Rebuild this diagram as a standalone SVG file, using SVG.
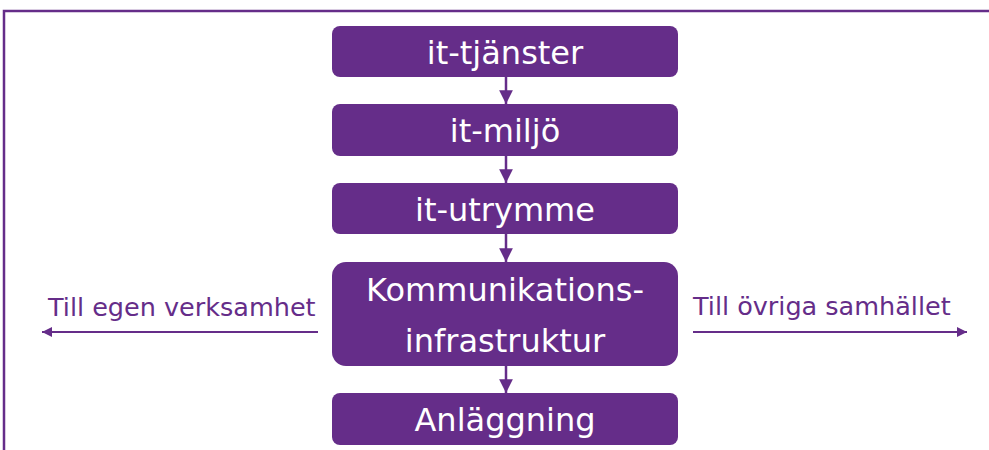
<svg xmlns="http://www.w3.org/2000/svg" width="989" height="450" viewBox="0 0 989 450">
  <style>
    .box { fill: #652d89; }
    .label { font-family: "DejaVu Sans", sans-serif; font-size: 32px; fill: #ffffff; text-anchor: middle; }
    .side { font-family: "DejaVu Sans", sans-serif; font-size: 25.5px; fill: #652d89; }
    .link { stroke: #652d89; stroke-width: 2.5; fill: none; }
    .thin { stroke: #652d89; stroke-width: 2; fill: none; }
  </style>
  <defs>
    <marker id="head" viewBox="0 0 10 10" refX="10" refY="5" markerWidth="5.5" markerHeight="6" markerUnits="strokeWidth" orient="auto">
      <path d="M0,0 L10,5 L0,10 Z" fill="#652d89"/>
    </marker>
    <marker id="headSmall" viewBox="0 0 10 10" refX="10" refY="5" markerWidth="5" markerHeight="5" markerUnits="strokeWidth" orient="auto">
      <path d="M0,0 L10,5 L0,10 Z" fill="#652d89"/>
    </marker>
  </defs>

  <!-- frame -->
  <path d="M4,450 L4,11 L989,11" stroke="#652d89" stroke-width="2.5" fill="none"/>

  <g id="connectors">
    <line class="link" x1="506" y1="77" x2="506" y2="104" marker-end="url(#head)"/>
    <line class="link" x1="506" y1="156" x2="506" y2="183" marker-end="url(#head)"/>
    <line class="link" x1="506" y1="234" x2="506" y2="262" marker-end="url(#head)"/>
    <line class="link" x1="506" y1="366" x2="506" y2="393" marker-end="url(#head)"/>
    <line class="thin" x1="318" y1="332" x2="42" y2="332" marker-end="url(#headSmall)"/>
    <line class="thin" x1="693" y1="332" x2="967" y2="332" marker-end="url(#headSmall)"/>
  </g>

  <g id="it-tjanster">
    <rect class="box" x="332" y="26" width="346" height="51" rx="8"/>
    <text class="label" x="505" y="64">it-tjänster</text>
  </g>
  <g id="it-miljo">
    <rect class="box" x="332" y="104" width="346" height="52" rx="8"/>
    <text class="label" x="505" y="142">it-miljö</text>
  </g>
  <g id="it-utrymme">
    <rect class="box" x="332" y="183" width="346" height="51" rx="8"/>
    <text class="label" x="505" y="221">it-utrymme</text>
  </g>
  <g id="kommunikationsinfrastruktur">
    <rect class="box" x="332" y="262" width="346" height="104" rx="14"/>
    <text class="label" x="505" y="301">Kommunikations-</text>
    <text class="label" x="505" y="352">infrastruktur</text>
  </g>
  <g id="anlaggning">
    <rect class="box" x="332" y="393" width="346" height="52" rx="8"/>
    <text class="label" x="505" y="431">Anläggning</text>
  </g>

  <g id="side-labels">
    <text class="side" x="48" y="316">Till egen verksamhet</text>
    <text class="side" x="693" y="315">Till övriga samhället</text>
  </g>
</svg>
